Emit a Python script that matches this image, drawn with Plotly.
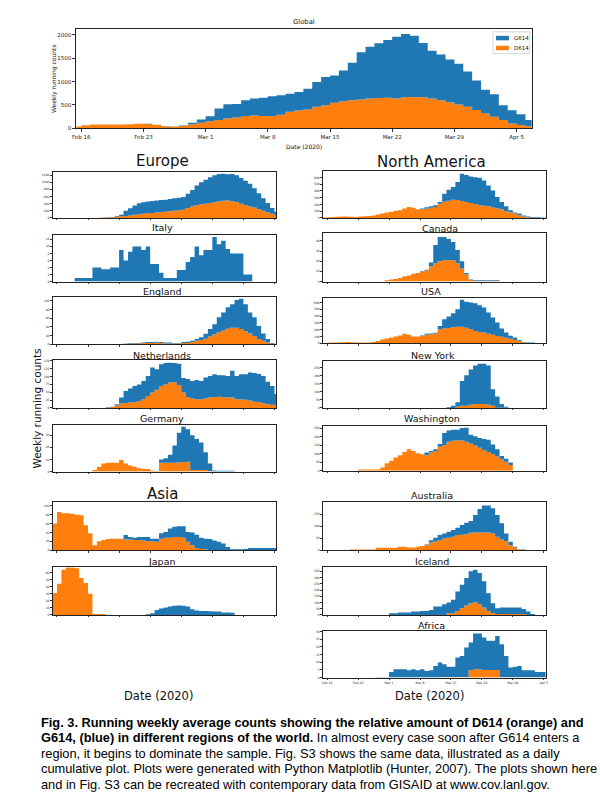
import numpy as np
import plotly.graph_objects as go

W, H = 600, 798
BLUE = "#1f77b4"
ORANGE = "#ff7f0e"
FONT = "DejaVu Sans"
CAPFONT = "Liberation Sans"

# ---------------- tick labels ----------------
date_tick_days = [1, 8, 15, 22, 29, 36, 43, 50]   # days after Feb 15, 2020
date_tick_labels = ["Feb 16", "Feb 23", "Mar 1", "Mar 8", "Mar 15", "Mar 22", "Mar 29", "Apr 5"]
legend_names = ["G614", "D614"]

# ---------------- data (weekly running counts, one value per day from Feb 15) ----------------
global_d614 = [40, 65, 80, 85, 85, 85, 90, 100, 95, 75,
               45, 35, 50, 90, 120, 150, 177, 212, 233, 265,
               275, 265, 265, 290, 353, 380, 403, 460, 495, 545,
               580, 600, 615, 636, 650, 657, 640, 665, 672, 665,
               636, 600, 560, 510, 460, 390, 318, 250, 177, 106,
               70, 45]
global_g614 = [0, 0, 0, 0, 0, 0, 0, 0, 2, 3,
               3, 5, 10, 30, 70, 110, 248, 303, 287, 335,
               361, 392, 420, 417, 389, 398, 445, 530, 601, 586,
               657, 800, 1011, 1110, 1167, 1231, 1318, 1350, 1308, 1159,
               1025, 977, 910, 870, 756, 635, 509, 478, 318, 283,
               234, 132]
global_yticks = [0, 500, 1000, 1500, 2000]

europe_d614 = [0, 0, 0, 0, 0, 0, 0, 0, 0, 0,
               3, 5, 10, 15, 25, 45, 55, 70, 90, 100,
               115, 130, 140, 150, 165, 175, 185, 200, 215, 230,
               280, 320, 360, 380, 400, 420, 440, 460, 480, 490,
               470, 440, 400, 360, 320, 290, 240, 200, 160, 120,
               80]
europe_g614 = [0, 0, 0, 0, 0, 0, 0, 0, 0, 0,
               2, 5, 5, 10, 20, 45, 145, 200, 260, 310,
               325, 330, 335, 340, 335, 335, 345, 350, 350, 360,
               400, 460, 550, 620, 670, 720, 760, 775, 760, 735,
               760, 760, 720, 680, 640, 540, 450, 350, 260, 160,
               90]
europe_yticks = [0, 200, 400, 600, 800, 1000, 1200]

italy_d614 = [0, 0, 0, 0, 0, 0, 0, 0, 0, 0,
              0, 0, 0, 0, 0, 0, 0, 0, 0, 0,
              0, 0, 0, 0, 0, 0, 0, 0, 0, 0,
              0, 0, 0, 0, 0, 0, 0, 0, 0, 0,
              0, 0, 0, 0, 0, 0, 0, 0, 0, 0,
              0]
italy_g614 = [0, 0, 0, 0, 0, 1, 1, 1, 1, 4,
              4, 3.5, 3.5, 4, 4, 9, 6, 8.5, 10, 10,
              9, 10, 5, 5, 2.5, 1, 1, 1, 3.3, 3.3,
              5.6, 7, 10, 7.5, 9, 9, 12.7, 10.6, 11.6, 9.3,
              8, 8, 8, 2, 2, 0, 0, 0, 0, 0,
              0]
italy_yticks = [0, 2, 4, 6, 8, 10, 12]

england_d614 = [0, 0, 0, 0, 0, 0, 0, 0, 0, 0,
                0, 0, 0, 0, 0, 0, 1, 2, 2, 2,
                3, 3, 3, 4, 3, 2, 2, 2, 2, 3,
                3, 5, 8, 10, 13, 18, 23, 28, 31, 36,
                38, 38, 35, 30, 25, 19, 12, 8, 4, 1,
                0]
england_g614 = [0, 0, 0, 0, 0, 0, 0, 0, 0, 0,
                0, 0, 0, 0, 0, 0, 1, 1, 1, 1,
                1, 2, 2, 2, 2, 2, 2, 1, 1, 2,
                3, 3, 4, 6, 11, 17, 23, 34, 42, 49,
                54, 64, 70, 62, 48, 43, 30, 17, 8, 2,
                0]
england_yticks = [0, 20, 40, 60, 80, 100]

netherlands_d614 = [0, 0, 0, 0, 0, 0, 0, 0, 0, 0,
                    0, 0, 1, 3, 8, 15, 16, 17, 18, 22,
                    28, 38, 49, 58, 70, 75, 81, 82, 72, 49,
                    35, 30, 28, 28, 30, 33, 35, 36, 34, 33,
                    33, 28, 27, 26, 24, 20, 18, 15, 12, 10,
                    10]
netherlands_g614 = [0, 0, 0, 0, 0, 0, 0, 0, 0, 0,
                    0, 0, 1, 1, 4, 18, 38, 45, 52, 53,
                    58, 64, 80, 65, 69, 68, 63, 61, 69, 46,
                    57, 56, 61, 58, 67, 69, 72, 68, 70, 69,
                    85, 74, 80, 81, 89, 91, 90, 87, 71, 60,
                    34]
netherlands_yticks = [0, 25, 50, 75, 100, 125, 150]

germany_d614 = [0, 0, 0, 0, 0, 0, 0, 0, 0, 1.4,
                4, 6.8, 7.3, 7.3, 7.3, 9.5, 6.8, 5, 4, 2.7,
                2.2, 2.2, 1, 0.5, 7.3, 7.3, 7.3, 7.3, 7.5, 8,
                8.1, 1.4, 1.4, 1.4, 1.4, 0.5, 0, 0, 0, 0,
                0, 0, 0, 0, 0, 0, 0, 0, 0, 0,
                0]
germany_g614 = [0, 0, 0, 0, 0, 0, 0, 0, 0, 0,
                0, 0, 0, 0, 0, 0, 0, 0, 0, 0,
                0, 0, 0, 0, 2.7, 3.7, 6.7, 14.3, 24.5, 29,
                26.9, 28.6, 25.6, 22.6, 14.6, 6.3, 1, 0.8, 0.8, 0.8,
                0.8, 0, 0, 0, 0, 0, 0, 0, 0, 0,
                0]
germany_yticks = [0, 10, 20, 30]

asia_d614 = [60, 86, 83, 83, 82, 80, 79, 56, 38, 11,
             20, 23, 25, 26, 26, 26, 24, 24, 23, 23,
             22, 20, 20, 19, 26, 28, 28, 30, 30, 28,
             19, 11, 5, 3, 2, 0, 0, 0, 0, 0,
             0, 0, 0, 0, 0, 0, 0, 0, 0, 0,
             0]
asia_g614 = [0, 0, 0, 0, 0, 0, 0, 0, 0, 0,
             0, 0, 0, 0, 0, 0, 10, 6, 5, 7,
             8, 10, 6, 7, 12, 13, 21, 23, 24, 26,
             22, 29, 30, 25, 24, 25, 22, 19, 15, 7.5,
             2, 2, 2, 3, 5, 5, 5, 5, 5, 5,
             5]
asia_yticks = [0, 20, 40, 60, 80, 100]

japan_d614 = [31, 44, 64, 67, 67, 66, 52, 45, 30, 1.4,
              1.4, 1.4, 0, 0, 0, 0, 0, 0, 0, 0,
              0, 0, 0, 0, 0, 0, 0, 0, 0, 0,
              0, 0, 0, 0, 0, 0, 0, 0, 0, 0,
              0, 0, 0, 0, 0, 0, 0, 0, 0, 0,
              0]
japan_g614 = [0, 0, 0, 0, 0, 0, 0, 0, 0, 0,
              0, 0, 0, 0, 0, 0, 0, 0, 0, 0,
              0, 1, 2.4, 7, 9, 10.5, 12, 13, 13.3, 13,
              12, 8, 6.2, 5.7, 5.7, 5, 4.8, 4.8, 3.3, 3.3,
              3, 0, 0, 0, 0, 0, 0, 0, 0, 0,
              0]
japan_yticks = [0, 10, 20, 30, 40, 50, 60]

namerica_d614 = [5, 10, 15, 18, 20, 20, 18, 15, 20, 25,
                 30, 35, 50, 65, 80, 90, 105, 115, 138, 163,
                 150, 130, 128, 135, 150, 163, 212, 240, 255, 270,
                 265, 250, 237, 220, 205, 187, 180, 173, 153, 140,
                 128, 99, 80, 64, 39, 20, 8, 3, 0, 0,
                 0]
namerica_g614 = [0, 0, 0, 0, 0, 0, 0, 0, 0, 0,
                 0, 0, 0, 0, 0, 0, 0, 0, 0, 0,
                 0, 0, 12, 25, 25, 24, 25, 120, 164, 188,
                 267, 406, 399, 396, 401, 410, 377, 310, 256, 171,
                 109, 74, 33, 16, 25, 14, 12, 12, 10, 5,
                 2]
namerica_yticks = [0, 100, 200, 300, 400, 500, 600]

canada_d614 = [0, 0, 0, 0, 0, 0, 0, 0, 0, 0,
               0, 0, 0, 0, 1.3, 2, 2.6, 3.5, 5.2, 6,
               7.7, 8.5, 10, 11, 15, 18, 20, 21, 21, 21,
               18, 13, 7, 1.5, 0.6, 0.6, 0.6, 0.6, 0.6, 0.6,
               0, 0, 0, 0, 0, 0, 0, 0, 0, 0,
               0]
canada_g614 = [0, 0, 0, 0, 0, 0, 0, 0, 0, 0,
               0, 0, 0, 0, 0, 0, 0, 0, 0, 0,
               0, 0, 0.5, 0.6, 3.7, 18, 24, 23, 21, 18,
               13, 7, 1.4, 0.5, 0.7, 0.7, 0.7, 0.7, 0.7, 0.7,
               0, 0, 0, 0, 0, 0, 0, 0, 0, 0,
               0]
canada_yticks = [0, 10, 20, 30, 40]

usa_d614 = [5, 8, 10, 12, 15, 18, 15, 12, 10, 10,
            10, 20, 35, 55, 70, 84, 100, 115, 140, 125,
            100, 100, 108, 125, 133, 143, 207, 217, 225, 235,
            242, 242, 230, 207, 180, 168, 158, 140, 125, 108,
            95, 80, 65, 50, 35, 15, 5, 0, 0, 0,
            0]
usa_g614 = [0, 0, 0, 0, 0, 0, 0, 0, 0, 0,
            0, 0, 0, 0, 0, 0, 0, 0, 0, 0,
            0, 0, 7, 15, 10, 12, 49, 138, 169, 209,
            261, 399, 381, 394, 412, 392, 369, 314, 255, 198,
            122, 78, 45, 34, 9, 5, 5, 10, 5, 0,
            0]
usa_yticks = [0, 100, 200, 300, 400, 500, 600]

newyork_d614 = [0, 0, 0, 0, 0, 0, 0, 0, 0, 0,
                0, 0, 0, 0, 0, 0, 0, 0, 0, 0,
                0, 0, 0, 0, 0, 0, 0, 0, 0, 0,
                8, 14, 14, 20, 25, 25, 25, 20, 14, 2,
                2, 1, 0, 0, 0, 0, 0, 0, 0, 0,
                0]
newyork_g614 = [0, 0, 0, 0, 0, 0, 0, 0, 0, 0,
                0, 0, 0, 0, 0, 0, 0, 0, 0, 0,
                0, 0, 0, 0, 0, 0, 0, 0, 4, 14,
                27, 154, 189, 220, 239, 250, 250, 244, 103, 70,
                23, 7, 0, 0, 0, 0, 0, 0, 0, 0,
                0]
newyork_yticks = [0, 50, 100, 150, 200, 250]

washington_d614 = [0, 0, 0, 0, 0, 0, 0, 0, 6, 6,
                   6, 6, 6, 19, 44, 58, 77, 90, 110, 125,
                   115, 102, 96, 90, 106, 115, 140, 150, 169, 175,
                   179, 177, 169, 159, 148, 134, 121, 109, 96, 83,
                   67, 52, 33, 0, 0, 0, 0, 0, 0, 0,
                   0]
washington_g614 = [0, 0, 0, 0, 0, 0, 0, 0, 0, 0,
                   0, 0, 0, 0, 0, 0, 0, 0, 0, 0,
                   0, 0, 0, 16, 9, 10, 17, 71, 67, 65,
                   61, 73, 83, 52, 54, 58, 65, 73, 58, 42,
                   19, 18, 15, 0, 0, 0, 0, 0, 0, 0,
                   0]
washington_yticks = [0, 50, 100, 150, 200, 250]

australia_d614 = [0, 0, 0, 0, 0, 0, 3, 3, 3, 3,
                  3, 3, 10, 10, 10, 10, 10, 14, 14, 11,
                  11, 14, 18, 21, 32, 36, 42, 49, 52, 56,
                  63, 65, 67, 73, 74, 74, 74, 74, 70, 56,
                  45, 38, 21, 10, 4, 0, 0, 0, 0, 0,
                  0]
australia_g614 = [0, 0, 0, 0, 0, 0, 0, 0, 0, 0,
                  0, 0, 0, 0, 0, 0, 0, 0, 0, 0,
                  0, 0, 0, 3, 10, 16, 21, 21, 25, 28,
                  31, 40, 48, 49, 73, 98, 112, 112, 105, 91,
                  67, 32, 14, 4, 0, 3, 0, 0, 0, 0,
                  0]
australia_yticks = [0, 50, 100, 150]

iceland_d614 = [0, 0, 0, 0, 0, 0, 0, 0, 0, 0,
                0, 0, 0, 0, 0, 0, 0, 0, 0, 0,
                0, 0, 0, 0, 0, 0, 0, 0, 13, 13,
                32, 54, 75, 94, 102, 86, 59, 32, 13, 8,
                8, 8, 8, 8, 8, 8, 0, 0, 0, 0,
                0]
iceland_g614 = [0, 0, 0, 0, 0, 0, 0, 0, 0, 0,
                0, 0, 0, 0, 0, 13, 13, 19, 19, 19,
                27, 27, 32, 32, 40, 67, 67, 86, 87, 108,
                157, 189, 222, 257, 262, 251, 211, 143, 81, 46,
                51, 51, 51, 51, 51, 40, 27, 8, 0, 0,
                0]
iceland_yticks = [0, 50, 100, 150, 200, 250, 300, 350]

africa_d614 = [0, 0, 0, 0, 0, 0, 0, 0, 0, 0,
               0, 0, 0, 0, 0, 0, 0, 0, 0, 0,
               0, 0, 0, 0, 0, 0, 0, 0.4, 0.4, 0.4,
               0.4, 0.4, 0.4, 5, 5.4, 5.4, 5, 5, 5, 5,
               0.4, 0.2, 0.2, 0.2, 0.2, 0.2, 0.2, 0.2, 0.2, 0.2,
               0.2]
africa_g614 = [0, 0, 0, 0, 0, 0, 0, 0, 0, 0,
               0, 0, 0.4, 0.4, 0.4, 3.7, 5.4, 5.4, 5.4, 4.8,
               5.4, 4.8, 5.4, 4.3, 4.8, 7.6, 9.8, 8.3, 6.6, 6.6,
               12.6, 13.6, 19.1, 17.8, 23.2, 23.2, 21, 19, 19, 22,
               21.3, 13.8, 6.3, 6.8, 7.4, 4.6, 4.6, 4.6, 3.5, 3.5,
               3.5]
africa_yticks = [0, 5, 10, 15, 20, 25, 30]

# ---------------- layout of panels (pixel boxes: x0, x1, top, bottom) ----------------
LX = (49, 275)
RX = (322, 547)
panels = [
    dict(d=global_d614, g=global_g614, box=(73, 533, 28, 128), ymax=2127, yt=global_yticks,
         xr=[0.44, 51.7], main=True),
    dict(d=europe_d614, g=europe_g614, box=(*LX, 172, 218), ymax=1284, yt=europe_yticks),
    dict(d=italy_d614, g=italy_g614, box=(*LX, 235, 282), ymax=13.3, yt=italy_yticks),
    dict(d=england_d614, g=england_g614, box=(*LX, 297, 345), ymax=110, yt=england_yticks),
    dict(d=netherlands_d614, g=netherlands_g614, box=(*LX, 361, 409), ymax=152, yt=netherlands_yticks),
    dict(d=germany_d614, g=germany_g614, box=(*LX, 426, 473), ymax=38.6, yt=germany_yticks),
    dict(d=asia_d614, g=asia_g614, box=(*LX, 504, 552), ymax=107.5, yt=asia_yticks),
    dict(d=japan_d614, g=japan_g614, box=(*LX, 569, 617), ymax=67.5, yt=japan_yticks),
    dict(d=namerica_d614, g=namerica_g614, box=(*RX, 171, 218), ymax=695, yt=namerica_yticks),
    dict(d=canada_d614, g=canada_g614, box=(*RX, 233, 282), ymax=48, yt=canada_yticks),
    dict(d=usa_d614, g=usa_g614, box=(*RX, 298, 344), ymax=675, yt=usa_yticks),
    dict(d=newyork_d614, g=newyork_g614, box=(*RX, 362, 409), ymax=291, yt=newyork_yticks),
    dict(d=washington_d614, g=washington_g614, box=(*RX, 427, 472), ymax=263, yt=washington_yticks),
    dict(d=australia_d614, g=australia_g614, box=(*RX, 504, 552), ymax=199, yt=australia_yticks),
    dict(d=iceland_d614, g=iceland_g614, box=(*RX, 569, 617), ymax=384, yt=iceland_yticks),
    dict(d=africa_d614, g=africa_g614, box=(*RX, 633, 680), ymax=30.4, yt=africa_yticks, xlabels=True),
]


def px(x):
    return x / W


def py(y):
    return 1 - y / H


fig = go.Figure()
layout_axes = {}
for i, p in enumerate(panels, start=1):
    sfx = "" if i == 1 else str(i)
    xa, ya = "x" + sfx, "y" + sfx
    d = np.asarray(p["d"], float)
    g = np.asarray(p["g"], float)
    tot = d + g
    days = np.arange(len(d) + 1)
    d_step = np.append(d, d[-1])
    t_step = np.append(tot, tot[-1])
    main = p.get("main", False)
    fig.add_trace(go.Scatter(x=days, y=d_step, mode="lines", line=dict(width=0, shape="hv"),
                             fill="tozeroy", fillcolor=ORANGE, name=legend_names[1],
                             showlegend=False, hoverinfo="skip", xaxis=xa, yaxis=ya))
    fig.add_trace(go.Scatter(x=days, y=t_step, mode="lines", line=dict(width=0, shape="hv"),
                             fill="tonexty", fillcolor=BLUE, name=legend_names[0],
                             showlegend=False, hoverinfo="skip", xaxis=xa, yaxis=ya))
    x0, x1, yt, yb = p["box"]
    fs = 5.5 if main else 3
    show_x = main or p.get("xlabels", False)
    layout_axes["xaxis" + sfx] = dict(
        domain=[px(x0), px(x1)], range=p.get("xr", [0.0, 50.4]), anchor=ya,
        tickvals=date_tick_days, ticktext=date_tick_labels, showticklabels=show_x,
        tickfont=dict(family=FONT, size=fs if main else 3.2, color="#222"),
        ticks="outside", ticklen=3 if main else 1.5, tickwidth=0.7, tickcolor="#333",
        showline=True, mirror=True, linecolor="#222", linewidth=0.9,
        showgrid=False, zeroline=False, fixedrange=True)
    layout_axes["yaxis" + sfx] = dict(
        domain=[py(yb), py(yt)], range=[0, p["ymax"]], anchor=xa,
        tickvals=p["yt"], tickfont=dict(family=FONT, size=fs, color="#222"),
        ticks="outside", ticklen=3 if main else 1.5, tickwidth=0.7, tickcolor="#333",
        showline=True, mirror=True, linecolor="#222", linewidth=0.9,
        showgrid=False, zeroline=False, fixedrange=True)

annotations = []


def text(x, y, s, size, family=FONT, xanchor="center", angle=0, color="#111"):
    annotations.append(dict(x=px(x), y=py(y), xref="paper", yref="paper", text=s,
                            showarrow=False, xanchor=xanchor, yanchor="middle",
                            textangle=angle, font=dict(family=family, size=size, color=color)))


# global panel texts
text(303, 21, "Global", 6.8)
text(303, 146, "Date (2020)", 6)
text(50, 78, "Weekly running counts", 6, angle=-90)

# region headers
text(160, 161, "Europe", 15)
text(432, 162, "North America", 15)
text(160, 495, "Asia", 15)

# panel titles
sub = [("Italy", 160, 228), ("England", 160, 292), ("Netherlands", 160, 356), ("Germany", 160, 420),
       ("Japan", 160, 563), ("Canada", 440, 229), ("USA", 431, 292), ("New York", 433, 356),
       ("Washington", 432, 420), ("Australia", 432, 497), ("Iceland", 432, 563), ("Africa", 432, 628)]
for s, x, y in sub:
    text(x, y, s, 9.5)

text(33, 410, "Weekly running counts", 10.5, angle=-90)
text(156, 699, "Date (2020)", 11.5)
text(430, 699, "Date (2020)", 11.5)

caption = [
    "<b>Fig. 3. Running weekly average counts showing the relative amount of D614 (orange) and</b>",
    "<b>G614, (blue) in different regions of the world.</b> In almost every case soon after G614 enters a",
    "region, it begins to dominate the sample. Fig. S3 shows the same data, illustrated as a daily",
    "cumulative plot. Plots were generated with Python Matplotlib (Hunter, 2007). The plots shown here",
    "and in Fig. S3 can be recreated with contemporary data from GISAID at www.cov.lanl.gov.",
]
for k, line in enumerate(caption):
    text(35, 725 + k * 15.5, line, 12.8, family=CAPFONT, xanchor="left", color="#000")

# manual legend on the global panel
shapes = [
    dict(type="rect", xref="paper", yref="paper", x0=px(494), x1=px(531), y0=py(53), y1=py(31),
         line=dict(color="#cccccc", width=0.8), fillcolor="rgba(255,255,255,0.8)"),
    dict(type="rect", xref="paper", yref="paper", x0=px(497), x1=px(510), y0=py(39.5), y1=py(35),
         line=dict(width=0), fillcolor=BLUE),
    dict(type="rect", xref="paper", yref="paper", x0=px(497), x1=px(510), y0=py(49.5), y1=py(45),
         line=dict(width=0), fillcolor=ORANGE),
]
text(513, 37.2, legend_names[0], 5.5, xanchor="left")
text(513, 47.2, legend_names[1], 5.5, xanchor="left")

fig.update_layout(
    width=W, height=H, autosize=False,
    margin=dict(l=0, r=0, t=0, b=0),
    paper_bgcolor="white", plot_bgcolor="white",
    showlegend=False, annotations=annotations, shapes=shapes,
    **layout_axes,
)

fig.write_html("out.html", config={"displayModeBar": False},
               post_script="document.body.style.margin='0';document.body.style.overflow='hidden';")
